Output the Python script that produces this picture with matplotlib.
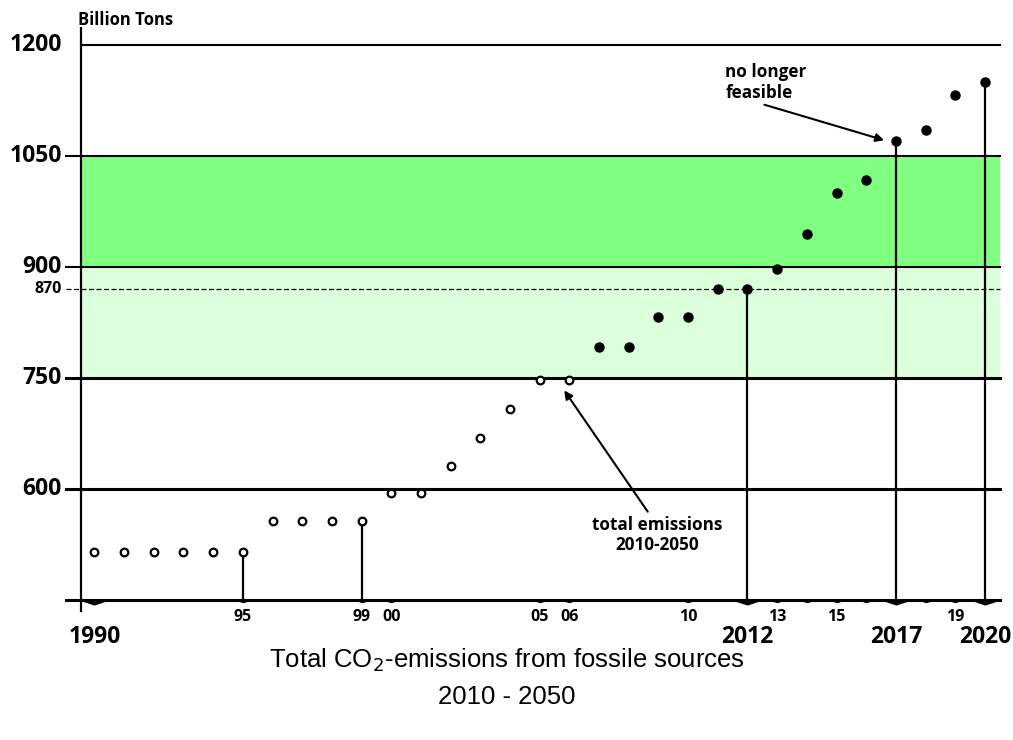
import matplotlib.pyplot as plt
from matplotlib.path import Path
import numpy as np

plt.rcParams['font.family'] = ['Open Sans', 'DejaVu Sans']

# data
years = np.arange(1990, 2021)
emissions = [515, 515, 515, 515, 515, 515,
             557, 557, 557, 557,
             595, 595, 631, 669, 708, 747, 747,
             792, 792, 832, 832, 870, 870,
             898, 945, 1000, 1018, 1070, 1086, 1133, 1150]
first_filled = 2007
stem_years = [1995, 1999, 2012, 2017, 2020]

ytick_vals = [1200, 1050, 900, 750, 600]
small_ticks = [1995, 1999, 2000, 2005, 2006, 2010, 2013, 2014, 2015, 2016, 2018, 2019]
small_labels = {1995: '95', 1999: '99', 2000: '00', 2005: '05', 2006: '06', 2010: '10',
                2013: '13', 2015: '15', 2019: '19'}
big_ticks = [1990, 2012, 2017, 2020]

ymin, ymax = 450, 1200
xmin, xmax = 1989.55, 2020.5

fig = plt.figure(figsize=(10.13, 7.4), dpi=100)
ax = fig.add_axes([0.08, 0.189, 0.907, 0.75])
ax.set_xlim(xmin, xmax)
ax.set_ylim(ymin, ymax)
ax.axis('off')

# bands
ax.axhspan(900, 1050, color='#80ff80', lw=0, zorder=0)
ax.axhspan(750, 900, color='#dcffdc', lw=0, zorder=0)

# horizontal reference lines
xl = xmin - 0.5
ax.plot([xmin, xmax], [1200, 1200], color='black', lw=1.5, clip_on=False)
for v, w in [(1050, 1.5), (900, 1.5), (750, 2.2), (600, 2.2)]:
    ax.plot([xl, xmax], [v, v], color='black', lw=w, clip_on=False)
ax.plot([xl, xmax], [870, 870], color='black', lw=0.9, ls=(0, (4, 2)), clip_on=False)

# axes lines
ax.plot([xmin, xmin], [-0.02, 1.03], color='black', lw=1.6,
        transform=ax.get_xaxis_transform(), clip_on=False)
ax.plot([xl, xmax], [ymin, ymin], color='black', lw=2.2, clip_on=False)

# y labels
for v in ytick_vals:
    ax.text(xmin - 0.65, v, str(v), ha='right', va='center', fontsize=16.5,
            fontweight='bold')
ax.text(xmin - 0.65, 870, '870', ha='right', va='center', fontsize=11.5, fontweight='bold')
ax.text(xmin - 0.1, 1222, 'Billion Tons', ha='left', va='bottom', fontsize=12,
        fontweight='bold')

# x tick triangles
tri = Path([(-1, 0), (1, 0), (0, -0.33), (-1, 0)],
           [Path.MOVETO, Path.LINETO, Path.LINETO, Path.CLOSEPOLY])
ax.plot(small_ticks, [ymin] * len(small_ticks), ls='none', marker=tri, ms=9,
        color='black', clip_on=False, zorder=4)
ax.plot(big_ticks, [ymin] * len(big_ticks), ls='none', marker=tri, ms=19,
        color='black', clip_on=False, zorder=4)

for y, lab in small_labels.items():
    ax.text(y, ymin - 12, lab, ha='center', va='top', fontsize=11.5, fontweight='bold')
for y in big_ticks:
    ax.text(y, ymin - 33, str(y), ha='center', va='top', fontsize=16.5, fontweight='bold')

# stems
for y in stem_years:
    v = emissions[list(years).index(y)]
    ax.plot([y, y], [ymin, v], color='black', lw=1.6, zorder=3)

# points
yrs = np.array(years)
vals = np.array(emissions)
op = yrs < first_filled
ax.plot(yrs[op], vals[op], ls='none', marker='o', ms=5.5, mfc='white', mec='black',
        mew=1.6, zorder=5)
ax.plot(yrs[~op], vals[~op], ls='none', marker='o', ms=6.5, color='black', zorder=5)

# annotations
ax.annotate('no longer\nfeasible', xy=(2016.65, 1071), xytext=(2011.25, 1150),
            fontsize=12.3, fontweight='bold', ha='left', va='center',
            arrowprops=dict(arrowstyle='-|>', color='black', lw=1.5,
                            shrinkA=1, shrinkB=1, relpos=(0.35, 0.0)))
ax.annotate('total emissions\n2010-2050', xy=(2005.8, 735), xytext=(2008.95, 538),
            fontsize=12.3, fontweight='bold', ha='center', va='center',
            arrowprops=dict(arrowstyle='-|>', color='black', lw=1.5,
                            shrinkA=1, shrinkB=1, relpos=(0.45, 1.0)))

fig.text(0.5, 0.108, 'Total CO$_2$-emissions from fossile sources',
         ha='center', va='center', fontsize=18.5, family='Liberation Sans')
fig.text(0.5, 0.058, '2010 - 2050',
         ha='center', va='center', fontsize=18.5, family='Liberation Sans')

plt.savefig('out.png', dpi=100)
plt.close()
